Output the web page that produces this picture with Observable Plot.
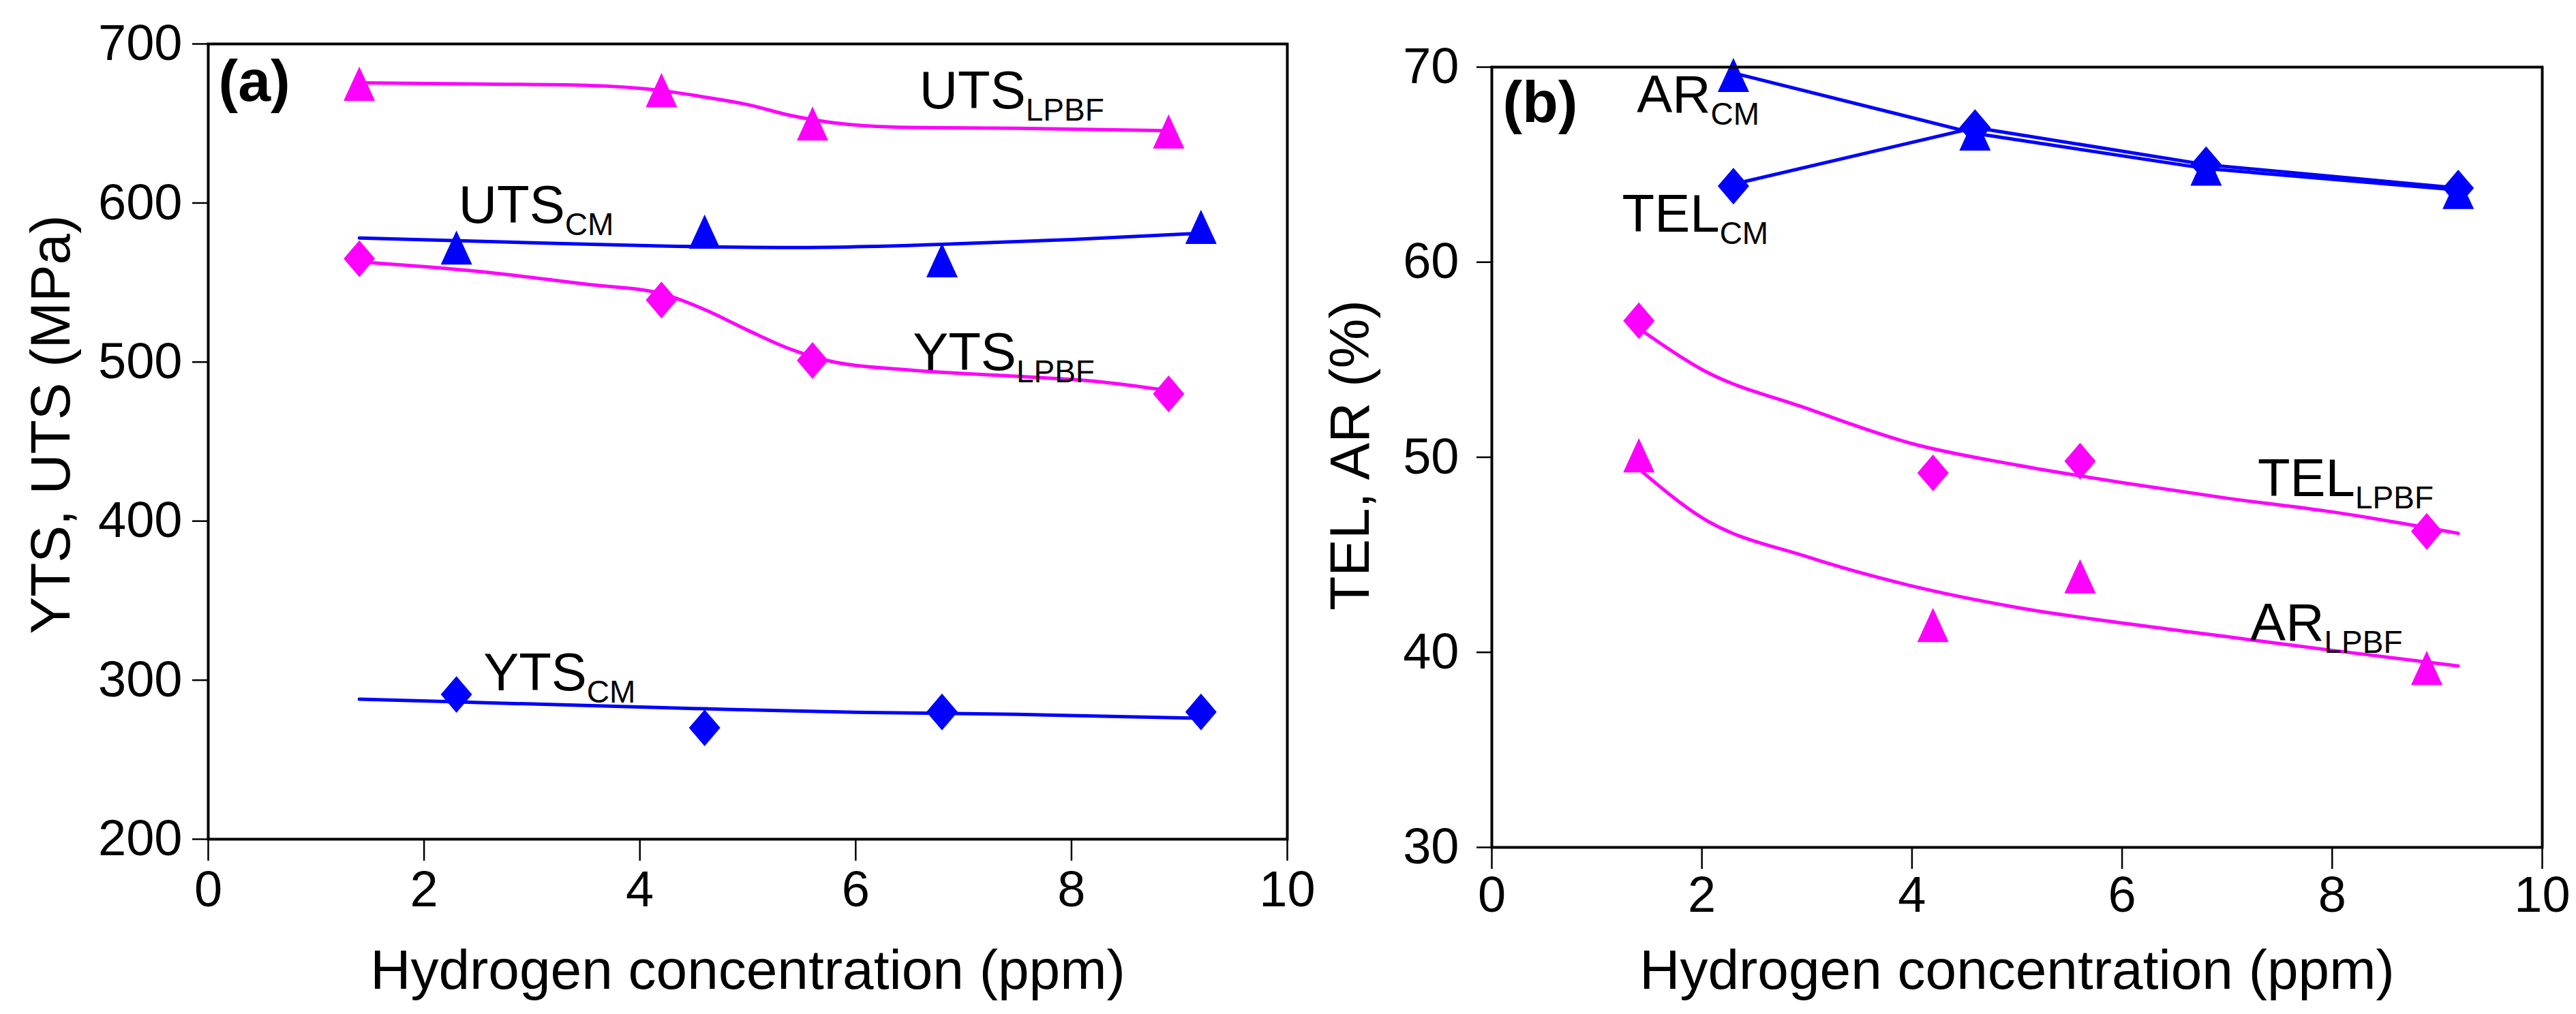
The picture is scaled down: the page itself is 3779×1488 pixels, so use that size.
<!DOCTYPE html>
<html>
<head>
<meta charset="utf-8">
<script src="https://cdn.jsdelivr.net/npm/d3@7"></script>
<script src="https://cdn.jsdelivr.net/npm/@observablehq/plot@0.6"></script>
<style>
  html, body { margin: 0; padding: 0; background: white; }
  #wrap { display: flex; flex-direction: row; width: 3779px; height: 1488px; }
  #wrap svg { overflow: visible; }
</style>
</head>
<body>
<div id="wrap"></div>
<script>
// ---------- data: panel (a) ----------
const xLPBF = [1.4, 4.2, 5.6, 8.9];
const xCM = [2.3, 4.6, 6.8, 9.2];
const utsLPBF = [675, 671, 650, 645];
const utsCM = [572, 582, 564, 585];
const ytsLPBF = [565, 539, 501, 480];
const ytsCM = [291, 270, 280, 280];

const utsLPBFLineX = [1.4, 2.5, 3.5, 4.2, 4.6, 5.0, 5.4, 5.8, 6.5, 7.5, 8.9];
const utsLPBFLineY = [675.6, 674.8, 674, 670.7, 666.6, 661.8, 655, 650.4, 647.5, 647, 645.5];
const utsCMLineX = [1.4, 3, 4.2, 5.5, 6.8, 8, 9.2];
const utsCMLineY = [578, 575, 573, 572, 574, 577, 581];
const ytsLPBFLineX = [1.4, 2.5, 3.5, 4.2, 4.6, 5.0, 5.4, 5.8, 6.5, 7.5, 8.2, 8.9];
const ytsLPBFLineY = [563, 557, 549, 543, 533, 520, 508, 500, 495, 491, 488, 482];
const ytsCMLineX = [1.4, 3, 4.6, 6, 7.5, 9.2];
const ytsCMLineY = [288, 285, 282, 279.8, 278.5, 276];

const xTicks = [0, 2, 4, 6, 8, 10];
const yTicksA = [200, 300, 400, 500, 600, 700];
const labelsA = ["UTS_LPBF", "UTS_CM", "YTS_LPBF", "YTS_CM"];
const labelsAX = [6.59, 2.32, 6.53, 2.55];
const labelsAY = [659.7, 587.7, 495, 293.8];

// ---------- data: panel (b) ----------
const telCM = [63.9, 66.9, 65.0, 63.8];
const arCM = [69.6, 66.6, 64.8, 63.6];
const telLPBF = [57.0, 49.2, 49.8, 46.2];
const arLPBF = [50.1, 41.4, 43.9, 39.2];
const arCMLine = [69.7, 66.6, 64.8, 63.7];
const telCMLine = [64.0, 66.9, 65.0, 63.8];
const fitX = [1.4, 2, 3, 4, 5, 6, 7, 8, 9.2];
const telLPBFFit = [56.6, 54.5, 52.5, 50.7, 49.6, 48.7, 47.9, 47.2, 46.1];
const arLPBFFit = [49.4, 46.9, 44.9, 43.4, 42.3, 41.5, 40.8, 40.1, 39.3];

const yTicksB = [30, 40, 50, 60, 70];
const labelsB = ["AR_CM", "TEL_CM", "TEL_LPBF", "AR_LPBF"];
const labelsBX = [1.38, 1.24, 7.29, 7.22];
const labelsBY = [67.66, 61.55, 48.0, 40.6];

// ---------- helpers ----------
const MAG = "#ff00ff", BLUE = "#0000ff";
const FONT = "'Liberation Sans', Arial, sans-serif";
const pts = (xs, ys) => xs.map((x, i) => ({x, y: ys[i]}));
const tri = {draw(ctx, size) { const r = Math.sqrt(size / Math.PI); const h = r * 1.09;
  ctx.moveTo(0, -h); ctx.lineTo(r, h); ctx.lineTo(-r, h); ctx.closePath(); }};
const dia = {draw(ctx, size) { const r = Math.sqrt(size / Math.PI); const h = r * 1.17;
  ctx.moveTo(0, -h); ctx.lineTo(r, 0); ctx.lineTo(0, h); ctx.lineTo(-r, 0); ctx.closePath(); }};

function subscriptify(svg) {
  svg.querySelectorAll("text").forEach(t => {
    const s = t.textContent;
    if (!s.includes("_")) return;
    const [main, sub] = s.split("_");
    t.textContent = main;
    const ts = document.createElementNS("http://www.w3.org/2000/svg", "tspan");
    ts.setAttribute("font-size", "46px");
    ts.setAttribute("dy", "18");
    ts.textContent = sub;
    t.appendChild(ts);
  });
}

const lineOpts = {x: "x", y: "y", strokeWidth: 5, curve: "monotone-x"};
const dotR = 23;

// ---------- panel (a) ----------
const plotA = Plot.plot({
  width: 1890, height: 1488,
  marginLeft: 305, marginRight: 2, marginTop: 64, marginBottom: 257,
  style: {fontSize: "74px", fontFamily: FONT, background: "transparent", overflow: "visible"},
  x: {domain: [0, 10]},
  y: {domain: [200, 700]},
  marks: [
    Plot.line(pts(utsLPBFLineX, utsLPBFLineY), {...lineOpts, stroke: MAG}),
    Plot.line(pts(utsCMLineX, utsCMLineY), {...lineOpts, stroke: BLUE}),
    Plot.line(pts(ytsLPBFLineX, ytsLPBFLineY), {...lineOpts, stroke: MAG}),
    Plot.line(pts(ytsCMLineX, ytsCMLineY), {...lineOpts, stroke: BLUE}),
    Plot.dot(pts(xLPBF, utsLPBF), {x: "x", y: "y", symbol: tri, r: dotR, fill: MAG, stroke: "none"}),
    Plot.dot(pts(xCM, utsCM), {x: "x", y: "y", symbol: tri, r: dotR, fill: BLUE, stroke: "none"}),
    Plot.dot(pts(xLPBF, ytsLPBF), {x: "x", y: "y", symbol: dia, r: dotR, fill: MAG, stroke: "none"}),
    Plot.dot(pts(xCM, ytsCM), {x: "x", y: "y", symbol: dia, r: dotR, fill: BLUE, stroke: "none"}),
    Plot.axisX({ticks: xTicks, tickSize: 32, tickPadding: 14, strokeWidth: 2.5, label: null}),
    Plot.axisY({ticks: yTicksA, tickSize: 23, tickPadding: 15, strokeWidth: 2.5, label: null}),
    Plot.frame({stroke: "black", strokeWidth: 4}),
    Plot.text(labelsA.map((t, i) => ({t, x: labelsAX[i], y: labelsAY[i]})),
      {x: "x", y: "y", text: "t", textAnchor: "start", lineAnchor: "bottom", fontSize: 78, fill: "black"}),
    Plot.text(["(a)"], {frameAnchor: "top-left", dx: 15, dy: 83, textAnchor: "start", lineAnchor: "bottom",
      fontSize: 86, fontWeight: "bold", fill: "black"}),
    Plot.text(["YTS, UTS (MPa)"], {frameAnchor: "left", rotate: -90, textAnchor: "middle", lineAnchor: "top",
      dx: -262, dy: -25, fontSize: 82, fill: "black"}),
    Plot.text(["Hydrogen concentration (ppm)"], {frameAnchor: "bottom", textAnchor: "middle", lineAnchor: "bottom",
      dy: 219, fontSize: 82, fill: "black"})
  ]
});

// ---------- panel (b) ----------
const plotB = Plot.plot({
  width: 1889, height: 1488,
  marginLeft: 298, marginRight: 50, marginTop: 98, marginBottom: 245,
  style: {fontSize: "74px", fontFamily: FONT, background: "transparent", overflow: "visible"},
  x: {domain: [0, 10]},
  y: {domain: [30, 70]},
  marks: [
    Plot.line(pts(xCM, arCMLine), {...lineOpts, curve: "linear", stroke: BLUE}),
    Plot.line(pts(xCM, telCMLine), {...lineOpts, curve: "linear", stroke: BLUE}),
    Plot.line(pts(fitX, telLPBFFit), {...lineOpts, stroke: MAG}),
    Plot.line(pts(fitX, arLPBFFit), {...lineOpts, stroke: MAG}),
    Plot.dot(pts(xCM, arCM), {x: "x", y: "y", symbol: tri, r: dotR, fill: BLUE, stroke: "none"}),
    Plot.dot(pts(xCM, telCM), {x: "x", y: "y", symbol: dia, r: dotR, fill: BLUE, stroke: "none"}),
    Plot.dot(pts(xLPBF, telLPBF), {x: "x", y: "y", symbol: dia, r: dotR, fill: MAG, stroke: "none"}),
    Plot.dot(pts(xLPBF, arLPBF), {x: "x", y: "y", symbol: tri, r: dotR, fill: MAG, stroke: "none"}),
    Plot.axisX({ticks: xTicks, tickSize: 32, tickPadding: 10, strokeWidth: 2.5, label: null}),
    Plot.axisY({ticks: yTicksB, tickSize: 22, tickPadding: 26, strokeWidth: 2.5, label: null}),
    Plot.frame({stroke: "black", strokeWidth: 4}),
    Plot.text(labelsB.map((t, i) => ({t, x: labelsBX[i], y: labelsBY[i]})),
      {x: "x", y: "y", text: "t", textAnchor: "start", lineAnchor: "bottom", fontSize: 78, fill: "black"}),
    Plot.text(["(b)"], {frameAnchor: "top-left", dx: 16, dy: 80, textAnchor: "start", lineAnchor: "bottom",
      fontSize: 86, fontWeight: "bold", fill: "black"}),
    Plot.text(["TEL, AR (%)"], {frameAnchor: "left", rotate: -90, textAnchor: "middle", lineAnchor: "top",
      dx: -239, dy: -3, fontSize: 82, fill: "black"}),
    Plot.text(["Hydrogen concentration (ppm)"], {frameAnchor: "bottom", textAnchor: "middle", lineAnchor: "bottom",
      dy: 207, fontSize: 82, fill: "black"})
  ]
});

subscriptify(plotA);
subscriptify(plotB);
const wrap = document.getElementById("wrap");
wrap.appendChild(plotA);
wrap.appendChild(plotB);
</script>
</body>
</html>
